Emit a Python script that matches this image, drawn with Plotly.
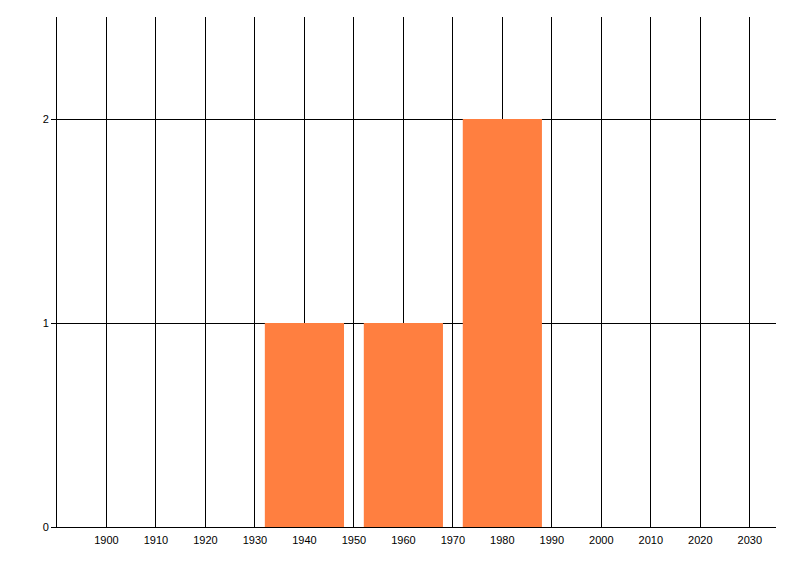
import plotly.graph_objects as go

# bin centres (decade pairs) and counts
years = [1940, 1960, 1980]
counts = [1, 1, 2]
bar_width = 16

x_ticks = list(range(1900, 2031, 10))
y_ticks = [0, 1, 2]

fig = go.Figure()
fig.add_trace(go.Bar(
    x=years, y=counts, width=bar_width,
    marker=dict(color='#FF7F40', line=dict(width=0)),
    showlegend=False
))

# page body has an 8px margin, so offsets are compensated here
fig.update_layout(
    width=800, height=576,
    plot_bgcolor='white', paper_bgcolor='white',
    margin=dict(l=49, r=32, t=9, b=57),
    font=dict(family='Liberation Sans', size=11, color='black'),
)

fig.update_xaxes(
    range=[1890, 2035.3], tickvals=x_ticks,
    showgrid=True, gridcolor='black', gridwidth=1,
    showline=True, linecolor='black', linewidth=1,
    ticks='', zeroline=False, tickfont=dict(size=11),
    ticklabelstandoff=3,
)
fig.update_yaxes(
    range=[0, 2.5], tickvals=y_ticks,
    showgrid=True, gridcolor='black', gridwidth=1,
    showline=True, linecolor='black', linewidth=1,
    ticks='outside', ticklen=5, tickcolor='black',
    zeroline=False, tickfont=dict(size=11),
)

fig.write_html("out.html")
